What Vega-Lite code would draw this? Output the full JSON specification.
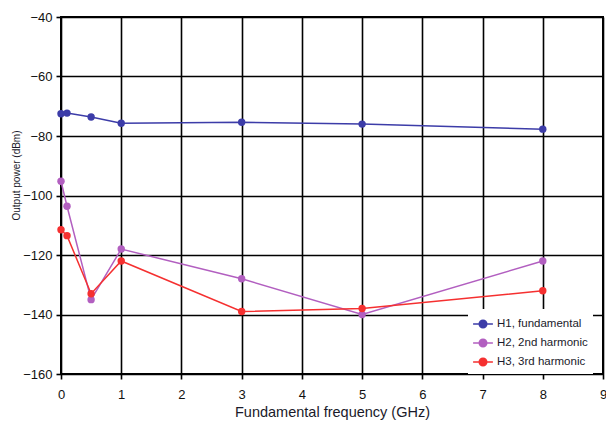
{
  "$schema": "https://vega.github.io/schema/vega-lite/v6.json",
  "width": 542,
  "height": 357,
  "autosize": {"type": "none"},
  "padding": {"left": 61, "top": 17, "right": 3, "bottom": 50},
  "background": "white",
  "config": {
    "view": {"stroke": "black", "strokeWidth": 2},
    "font": "Liberation Sans",
    "axis": {
      "grid": true,
      "gridColor": "black",
      "gridWidth": 1.6,
      "gridOpacity": 1,
      "domain": false,
      "tickColor": "black",
      "tickWidth": 1.6,
      "tickSize": 5,
      "labelColor": "#111",
      "labelFont": "Liberation Sans",
      "labelFontSize": 13,
      "titleFont": "Liberation Sans",
      "titleColor": "#1a1a2a",
      "titleFontWeight": "normal"
    }
  },
  "data": {
    "values": [
      {"x": 0, "y": -72.5, "s": "H1, fundamental"},
      {"x": 0.1, "y": -72.3, "s": "H1, fundamental"},
      {"x": 0.5, "y": -73.6, "s": "H1, fundamental"},
      {"x": 1, "y": -75.7, "s": "H1, fundamental"},
      {"x": 3, "y": -75.4, "s": "H1, fundamental"},
      {"x": 5, "y": -76, "s": "H1, fundamental"},
      {"x": 8, "y": -77.7, "s": "H1, fundamental"},
      {"x": 0, "y": -95.2, "s": "H2, 2nd harmonic"},
      {"x": 0.1, "y": -103.6, "s": "H2, 2nd harmonic"},
      {"x": 0.5, "y": -135, "s": "H2, 2nd harmonic"},
      {"x": 1, "y": -118, "s": "H2, 2nd harmonic"},
      {"x": 3, "y": -128, "s": "H2, 2nd harmonic"},
      {"x": 5, "y": -140, "s": "H2, 2nd harmonic"},
      {"x": 8, "y": -122, "s": "H2, 2nd harmonic"},
      {"x": 0, "y": -111.5, "s": "H3, 3rd harmonic"},
      {"x": 0.1, "y": -113.5, "s": "H3, 3rd harmonic"},
      {"x": 0.5, "y": -133, "s": "H3, 3rd harmonic"},
      {"x": 1, "y": -122, "s": "H3, 3rd harmonic"},
      {"x": 3, "y": -139, "s": "H3, 3rd harmonic"},
      {"x": 5, "y": -138, "s": "H3, 3rd harmonic"},
      {"x": 8, "y": -132, "s": "H3, 3rd harmonic"}
    ]
  },
  "mark": {"type": "line", "strokeWidth": 1.5, "point": {"filled": true, "size": 55, "opacity": 1}},
  "encoding": {
    "x": {
      "field": "x",
      "type": "quantitative",
      "scale": {"domain": [0, 9], "nice": false, "zero": false},
      "axis": {
        "values": [0, 1, 2, 3, 4, 5, 6, 7, 8, 9],
        "title": "Fundamental frequency (GHz)",
        "titleFontSize": 14.5,
        "titlePadding": 4,
        "labelPadding": 9,
        "labelFlush": false
      }
    },
    "y": {
      "field": "y",
      "type": "quantitative",
      "scale": {"domain": [-160, -40], "nice": false, "zero": false},
      "axis": {
        "values": [-160, -140, -120, -100, -80, -60, -40],
        "title": "Output power (dBm)",
        "titleFontSize": 10,
        "titleX": -45,
        "titleY": 158,
        "titleBaseline": "middle",
        "titleAngle": -90,
        "labelPadding": 4
      }
    },
    "color": {
      "field": "s",
      "type": "nominal",
      "scale": {
        "domain": ["H1, fundamental", "H2, 2nd harmonic", "H3, 3rd harmonic"],
        "range": ["#3c3ca8", "#b25fc0", "#f53030"]
      },
      "legend": {
        "title": null,
        "orient": "none",
        "legendX": 407,
        "legendY": 292,
        "fillColor": "white",
        "padding": 5,
        "symbolType": "M-1.1,0H1.1M-0.42,0a0.42,0.42 0 1,0 0.84,0a0.42,0.42 0 1,0 -0.84,0Z",
        "symbolSize": 324,
        "symbolStrokeWidth": 1.5,
        "labelFontSize": 11.5,
        "labelColor": "#1a1a2a",
        "labelOffset": 4,
        "rowPadding": 2,
        "encode": {
          "symbols": {
            "update": {
              "fill": {"scale": "color", "field": "value"},
              "stroke": {"scale": "color", "field": "value"},
              "opacity": {"value": 1}
            }
          }
        }
      }
    }
  }
}
